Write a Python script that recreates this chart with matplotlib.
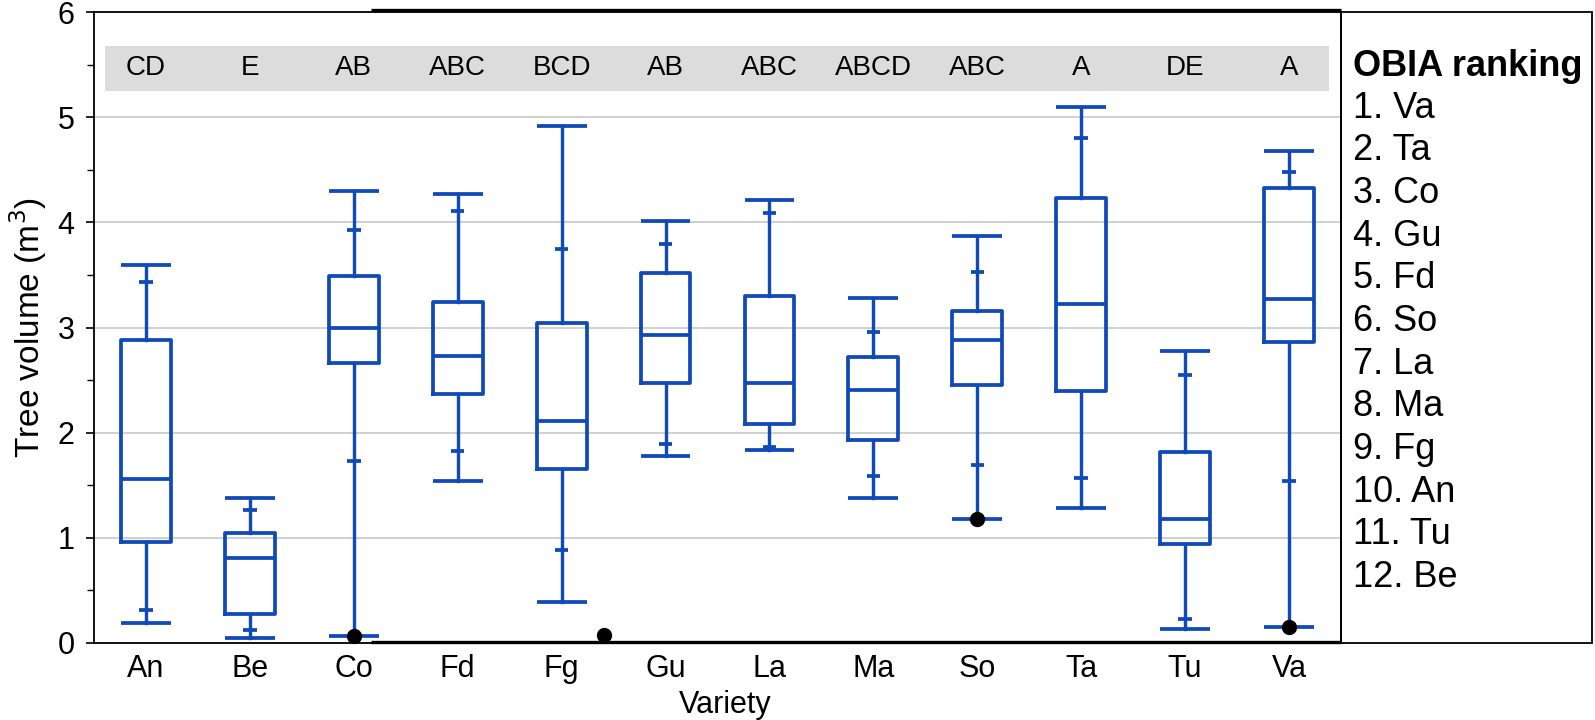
import matplotlib
matplotlib.use("Agg")
import matplotlib.pyplot as plt
from matplotlib.patches import Rectangle
import numpy as np

plt.rcParams['font.family'] = ['Liberation Sans', 'DejaVu Sans']

varieties = ['An', 'Be', 'Co', 'Fd', 'Fg', 'Gu', 'La', 'Ma', 'So', 'Ta', 'Tu', 'Va']
whis_lo = [0.19, 0.05, 0.07, 1.54, 0.39, 1.775, 1.835, 1.38, 1.18, 1.28, 0.134, 0.154]
pct_lo = [0.31, 0.12, 1.735, 1.83, 0.88, 1.89, 1.865, 1.59, 1.69, 1.57, 0.23, 1.54]
q1 = [0.96, 0.275, 2.66, 2.37, 1.65, 2.47, 2.08, 1.93, 2.45, 2.40, 0.944, 2.86]
med = [1.56, 0.81, 3.00, 2.73, 2.11, 2.93, 2.47, 2.41, 2.88, 3.22, 1.18, 3.275]
q3 = [2.88, 1.045, 3.49, 3.24, 3.04, 3.52, 3.30, 2.72, 3.155, 4.23, 1.815, 4.33]
pct_hi = [3.43, 1.26, 3.93, 4.11, 3.75, 3.79, 4.09, 2.96, 3.53, 4.80, 2.545, 4.48]
whis_hi = [3.59, 1.38, 4.30, 4.27, 4.92, 4.01, 4.21, 3.28, 3.87, 5.10, 2.78, 4.68]
groups = ['CD', 'E', 'AB', 'ABC', 'BCD', 'AB', 'ABC', 'ABCD', 'ABC', 'A', 'DE', 'A']
outlier_var = ['Co', 'Fg', 'So', 'Va']
outlier_val = [0.07, 0.08, 1.18, 0.154]
outlier_shift = [0.0, 0.41, 0.0, 0.0]
ranking = ['Va', 'Ta', 'Co', 'Gu', 'Fd', 'So', 'La', 'Ma', 'Fg', 'An', 'Tu', 'Be']

blue = '#1049B8'
W, H = 1595, 720
fig = plt.figure(figsize=(W / 100, H / 100), dpi=100)
ax = fig.add_axes([94 / W, (H - 643) / H, (1341 - 94) / W, (643 - 12) / H])

pos = np.arange(len(varieties))
stats = []
for i in range(len(varieties)):
    stats.append(dict(med=med[i], q1=q1[i], q3=q3[i], whislo=whis_lo[i],
                      whishi=whis_hi[i], fliers=[]))
lw = 2.7
ax.bxp(stats, positions=pos, widths=0.48, capwidths=0.48, showfliers=False,
       boxprops=dict(color=blue, lw=lw),
       whiskerprops=dict(color=blue, lw=lw * 0.9),
       capprops=dict(color=blue, lw=lw, solid_capstyle='butt'),
       medianprops=dict(color=blue, lw=lw), zorder=3)
ax.hlines(pct_lo, pos - 0.065, pos + 0.065, color=blue, lw=lw, zorder=3)
ax.hlines(pct_hi, pos - 0.065, pos + 0.065, color=blue, lw=lw, zorder=3)

ox = [varieties.index(v) + s for v, s in zip(outlier_var, outlier_shift)]
ax.plot(ox, outlier_val, 'o', color='black', ms=10, zorder=5, clip_on=False)

# group letters band
ax.add_patch(Rectangle((-0.39, 5.25), 11.77, 0.43, facecolor='#DCDCDC',
                       edgecolor='none', zorder=1))
for i, g in enumerate(groups):
    ax.text(i, 5.465, g, ha='center', va='center', fontsize=20, zorder=2)

ax.set_xlim(-0.5, 11.5)
ax.set_ylim(0, 6)
ax.set_yticks(range(0, 7))
ax.set_yticks(np.arange(0.5, 6, 1.0), minor=True)
ax.set_xticks(pos)
ax.set_xticklabels(varieties)
ax.tick_params(axis='x', length=0, pad=8, labelsize=22)
ax.tick_params(axis='y', which='major', length=6, width=1.2, pad=8, labelsize=22)
ax.tick_params(axis='y', which='minor', length=5, width=1.0)
ax.grid(axis='y', which='major', color='#CCCCCC', lw=1.3, zorder=0)
ax.set_axisbelow(True)
for s in ax.spines.values():
    s.set_linewidth(1.3)
    s.set_color('black')
# thicker frame segments as in the reference
ax.plot([0.222, 1.0], [1.003, 1.003], transform=ax.transAxes, color='black',
        lw=2.4, clip_on=False, solid_capstyle='butt')
ax.plot([0.222, 1.0], [0.001, 0.001], transform=ax.transAxes, color='black',
        lw=2.4, clip_on=False, solid_capstyle='butt')

ax.set_ylabel('Tree volume (m$^3$)', fontsize=24, labelpad=6)
ax.set_xlabel('Variety', fontsize=22, labelpad=2)
ax.xaxis.set_label_coords(0.506, -0.075)

# ranking panel
fig.add_artist(Rectangle((1341 / W, (H - 643) / H), (1592 - 1341) / W, (643 - 12) / H,
                         transform=fig.transFigure, facecolor='none',
                         edgecolor='black', lw=1.3))
tx = 1353 / W
fig.text(tx, 1 - 67 / H, 'OBIA ranking', fontsize=26, fontweight='bold',
         ha='left', va='center')
for k, r in enumerate(ranking):
    fig.text(tx, 1 - (108 + 42.7 * k) / H, f'{k + 1}. {r}', fontsize=26,
             ha='left', va='center')

fig.savefig('out.png', dpi=100)
